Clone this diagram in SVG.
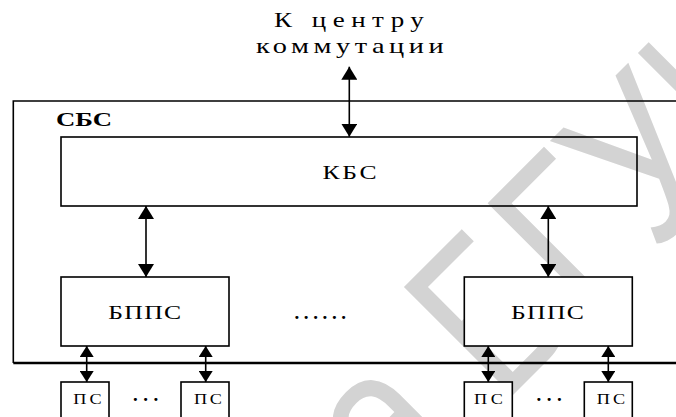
<svg xmlns="http://www.w3.org/2000/svg" width="676" height="417" viewBox="0 0 676 417">
  <style>
    .box { fill: none; stroke: #000; stroke-width: 1.6; }
    .fill { fill: #fff; }
    .frame { fill: none; stroke: #000; stroke-width: 1.6; }
    .lbl { font-family: "Liberation Serif", "DejaVu Serif", serif; fill: #000; }
    .wm { font-family: "Liberation Sans", Arial, sans-serif; font-size: 223px; fill: #d3d3d3; }
    .link { stroke: #000; stroke-width: 1.6; fill: none; }
  </style>
  <defs>
    <marker id="big" viewBox="0 0 13 16" refX="13" refY="8" markerWidth="13" markerHeight="16" orient="auto-start-reverse" markerUnits="userSpaceOnUse">
      <path d="M0,0 L13,8 L0,16 Z" fill="#000"/>
    </marker>
    <marker id="small" viewBox="0 0 11 14" refX="11" refY="7" markerWidth="11" markerHeight="14" orient="auto-start-reverse" markerUnits="userSpaceOnUse">
      <path d="M0,0 L11,7 L0,14 Z" fill="#000"/>
    </marker>
  </defs>

  <rect width="676" height="417" fill="#fff"/>

  <!-- library watermark -->
  <g id="watermark" transform="translate(502,406) rotate(-45) scale(0.81,1)">
    <text class="wm" x="-62" y="0" text-anchor="end">а</text>
    <text class="wm" x="0" y="0">БГУИР</text>
  </g>

  <!-- outer station frame -->
  <g id="sbs">
    <path class="frame" d="M676,101 H13.3 V363"/>
    <path d="M13.3,363 H676" stroke="#000" stroke-width="2.6" fill="none"/>
    <text class="lbl" x="56" y="126" font-size="19" font-weight="bold" textLength="56" lengthAdjust="spacingAndGlyphs">СБС</text>
  </g>

  <!-- labels are widened, as in a wide typewriter face -->
  <g id="center">
    <text class="lbl" transform="translate(274,26.7) scale(1.35,1)" font-size="20" textLength="111" lengthAdjust="spacing">К центру</text>
    <text class="lbl" transform="translate(256,53.3) scale(1.35,1)" font-size="21" textLength="139" lengthAdjust="spacing">коммутации</text>
  </g>

  <g id="kbs">
    <rect class="box" x="61" y="137" width="576" height="69"/>
    <text class="lbl" transform="translate(322.5,179.3) scale(1.35,1)" font-size="19" textLength="40" lengthAdjust="spacing">КБС</text>
  </g>

  <g id="bpps1">
    <rect class="box fill" x="61" y="277" width="168" height="69"/>
    <text class="lbl" transform="translate(108.3,319) scale(1.35,1)" font-size="19" textLength="54" lengthAdjust="spacing">БППС</text>
  </g>

  <g id="bpps2">
    <rect class="box fill" x="464.3" y="277" width="168" height="69"/>
    <text class="lbl" transform="translate(511,319) scale(1.35,1)" font-size="19" textLength="54" lengthAdjust="spacing">БППС</text>
  </g>

  <g id="gap-mid">
    <text class="lbl" x="294.5" y="318.5" font-size="19" letter-spacing="4.6" font-weight="bold">......</text>
  </g>

  <g id="ps1">
    <rect class="box fill" x="61" y="382" width="48" height="40"/>
    <text class="lbl" transform="translate(73.3,404) scale(1.3,1)" font-size="14" textLength="21.8" lengthAdjust="spacing">ПС</text>
  </g>
  <g id="ps2">
    <rect class="box fill" x="181" y="382" width="48" height="40"/>
    <text class="lbl" transform="translate(194,404) scale(1.3,1)" font-size="14" textLength="21.5" lengthAdjust="spacing">ПС</text>
  </g>
  <g id="ps3">
    <rect class="box fill" x="464.3" y="382" width="48" height="40"/>
    <text class="lbl" transform="translate(474,404) scale(1.3,1)" font-size="14" textLength="22.3" lengthAdjust="spacing">ПС</text>
  </g>
  <g id="ps4">
    <rect class="box fill" x="584.3" y="382" width="48" height="40"/>
    <text class="lbl" transform="translate(596.7,404) scale(1.3,1)" font-size="14" textLength="21.8" lengthAdjust="spacing">ПС</text>
  </g>

  <g id="gap-ps">
    <text class="lbl" x="133" y="401" font-size="19" letter-spacing="5.5" font-weight="bold">...</text>
    <text class="lbl" x="536.5" y="401" font-size="19" letter-spacing="5.5" font-weight="bold">...</text>
  </g>

  <!-- bidirectional links -->
  <g id="connectors">
    <line class="link" x1="349.3" y1="66.7" x2="349.3" y2="136.7" marker-start="url(#big)" marker-end="url(#big)"/>
    <line class="link" x1="146" y1="206" x2="146" y2="277" marker-start="url(#big)" marker-end="url(#big)"/>
    <line class="link" x1="548.3" y1="206" x2="548.3" y2="277" marker-start="url(#big)" marker-end="url(#big)"/>
    <line class="link" x1="86.7" y1="346" x2="86.7" y2="382" marker-start="url(#small)" marker-end="url(#small)"/>
    <line class="link" x1="205.7" y1="346" x2="205.7" y2="382" marker-start="url(#small)" marker-end="url(#small)"/>
    <line class="link" x1="488.3" y1="346" x2="488.3" y2="382" marker-start="url(#small)" marker-end="url(#small)"/>
    <line class="link" x1="608.3" y1="346" x2="608.3" y2="382" marker-start="url(#small)" marker-end="url(#small)"/>
  </g>
</svg>
